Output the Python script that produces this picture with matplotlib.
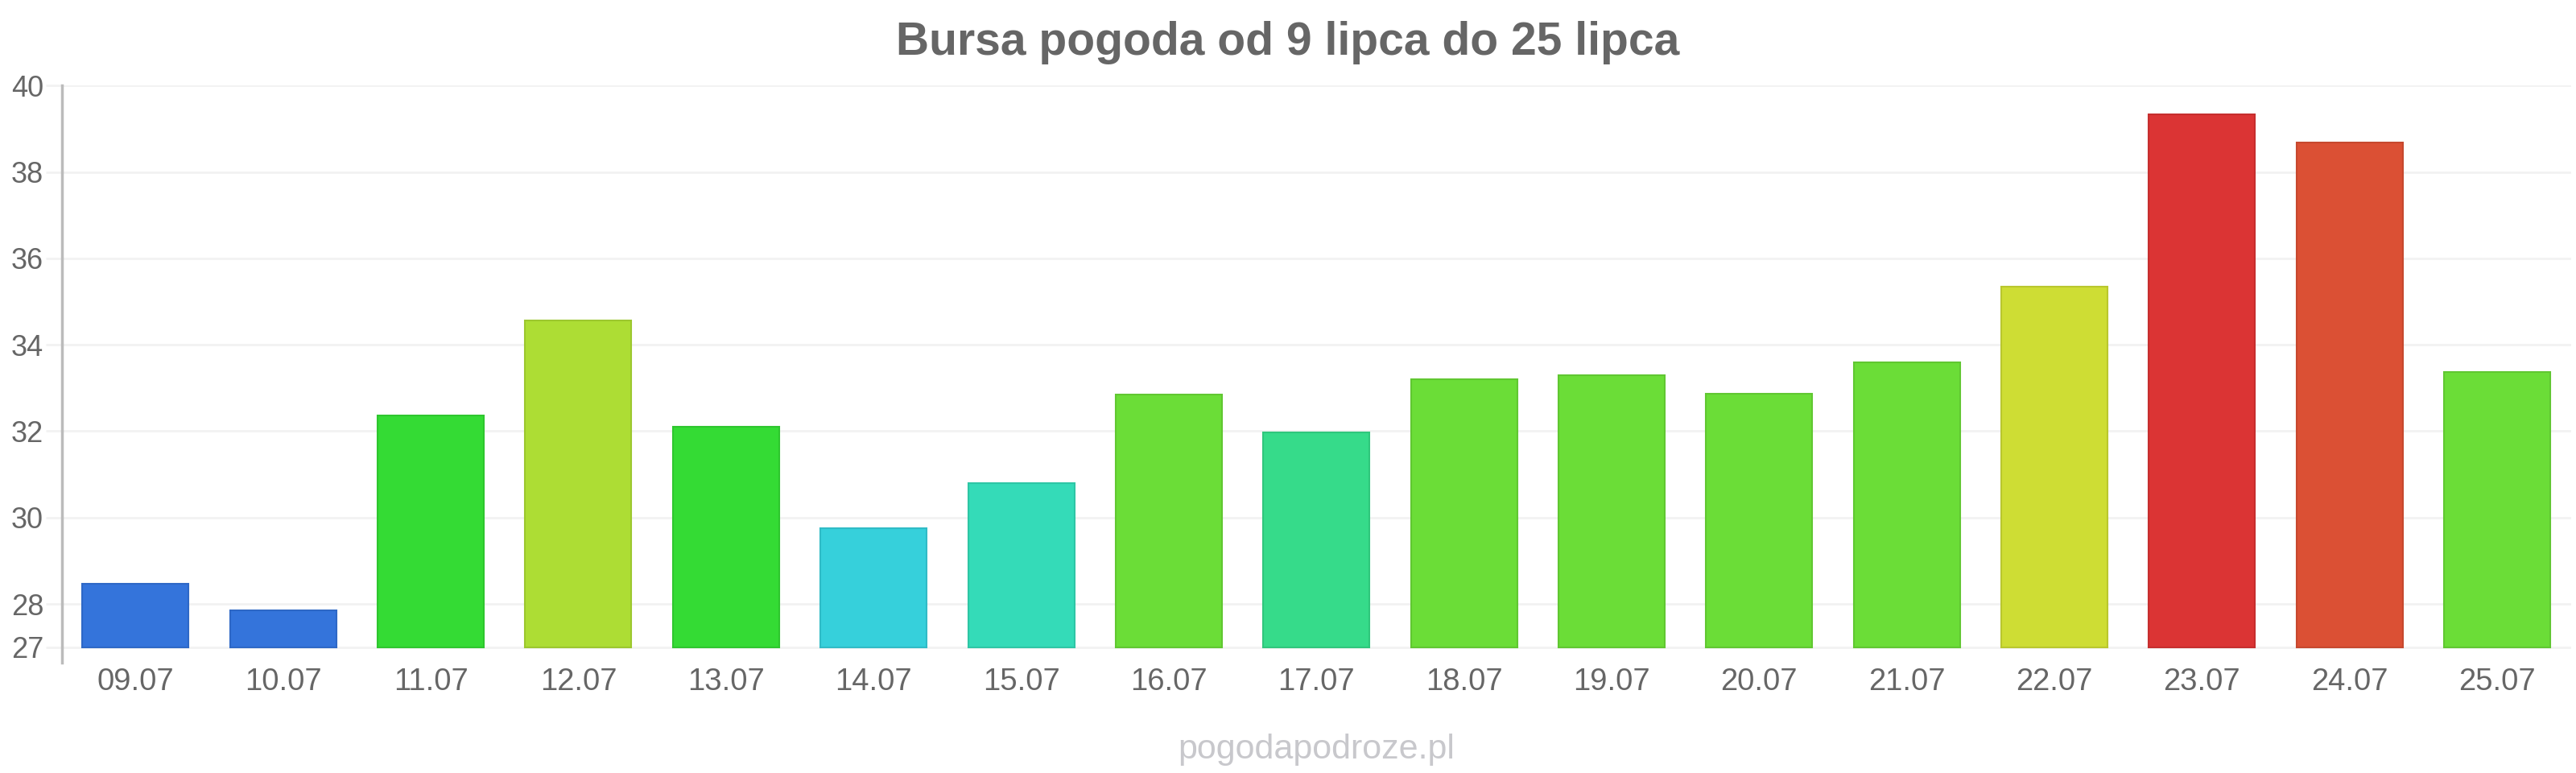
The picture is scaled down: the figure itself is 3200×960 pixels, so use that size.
import matplotlib
matplotlib.use("Agg")
import matplotlib.pyplot as plt

plt.rcParams['font.family'] = ['Liberation Sans', 'DejaVu Sans']

title = "Bursa pogoda od 9 lipca do 25 lipca"
watermark = "pogodapodroze.pl"
dates = ["09.07", "10.07", "11.07", "12.07", "13.07", "14.07", "15.07", "16.07", "17.07",
         "18.07", "19.07", "20.07", "21.07", "22.07", "23.07", "24.07", "25.07"]
temps = [28.47, 27.86, 32.37, 34.57, 32.11, 29.76, 30.79, 32.85, 31.97,
         33.21, 33.30, 32.86, 33.60, 35.34, 39.34, 38.68, 33.37]
colors = ["#3474db", "#3474db", "#34db34", "#addd34", "#34db34", "#36d0db", "#34dbb8", "#6bdd37", "#36db8a",
          "#6bdd37", "#6bdd37", "#6bdd37", "#6bdd37", "#cedd34", "#db3434", "#db5034", "#6bdd37"]
edge_colors = ["#2e68c6", "#2e68c6", "#2ec62e", "#9cc72e", "#2ec62e", "#30bbc6", "#2ec6a5", "#60c731", "#30c67c",
               "#60c731", "#60c731", "#60c731", "#60c731", "#b9c72e", "#c62e2e", "#c6482e", "#60c731"]
yticks = [27, 28, 30, 32, 34, 36, 38, 40]

fig = plt.figure(figsize=(32, 9.6), dpi=100)
ax_left, ax_bottom, ax_w, ax_h = 0.024, 0.1427, 0.974, 0.7465
ax = fig.add_axes([ax_left, ax_bottom, ax_w, ax_h])

x = range(len(dates))
ax.bar(x, [t - 27 for t in temps], bottom=27, width=0.72, color=colors,
       edgecolor=edge_colors, linewidth=1.5, zorder=3)

ax.set_xlim(-0.5, len(dates) - 0.5)
ax.set_ylim(26.64, 40)
ax.set_yticks(yticks)
ax.set_yticklabels([str(v) for v in yticks])
ax.set_xticks(list(x))
ax.set_xticklabels(dates)

ax.grid(axis='y', color='#f2f2f2', linewidth=2, zorder=0)
ax.tick_params(axis='y', length=14.4, width=2, color='#f2f2f2', pad=2,
               labelsize=26, labelcolor='#666666')
ax.tick_params(axis='x', length=0, pad=4, labelsize=27.5, labelcolor='#666666')

for s in ['top', 'right', 'bottom']:
    ax.spines[s].set_visible(False)
ax.spines['left'].set_color('#bbbbbb')
ax.spines['left'].set_linewidth(2.5)

fig.text(0.5, 1 - 53 / 960, title, ha='center', va='center', fontsize=41,
         fontweight='bold', color='#666666')
fig.text(ax_left + ax_w / 2, 1 - 942 / 960, watermark, ha='center', va='baseline',
         fontsize=31, color='#c8c8cc')

fig.savefig("out.png", dpi=100, facecolor='white')
